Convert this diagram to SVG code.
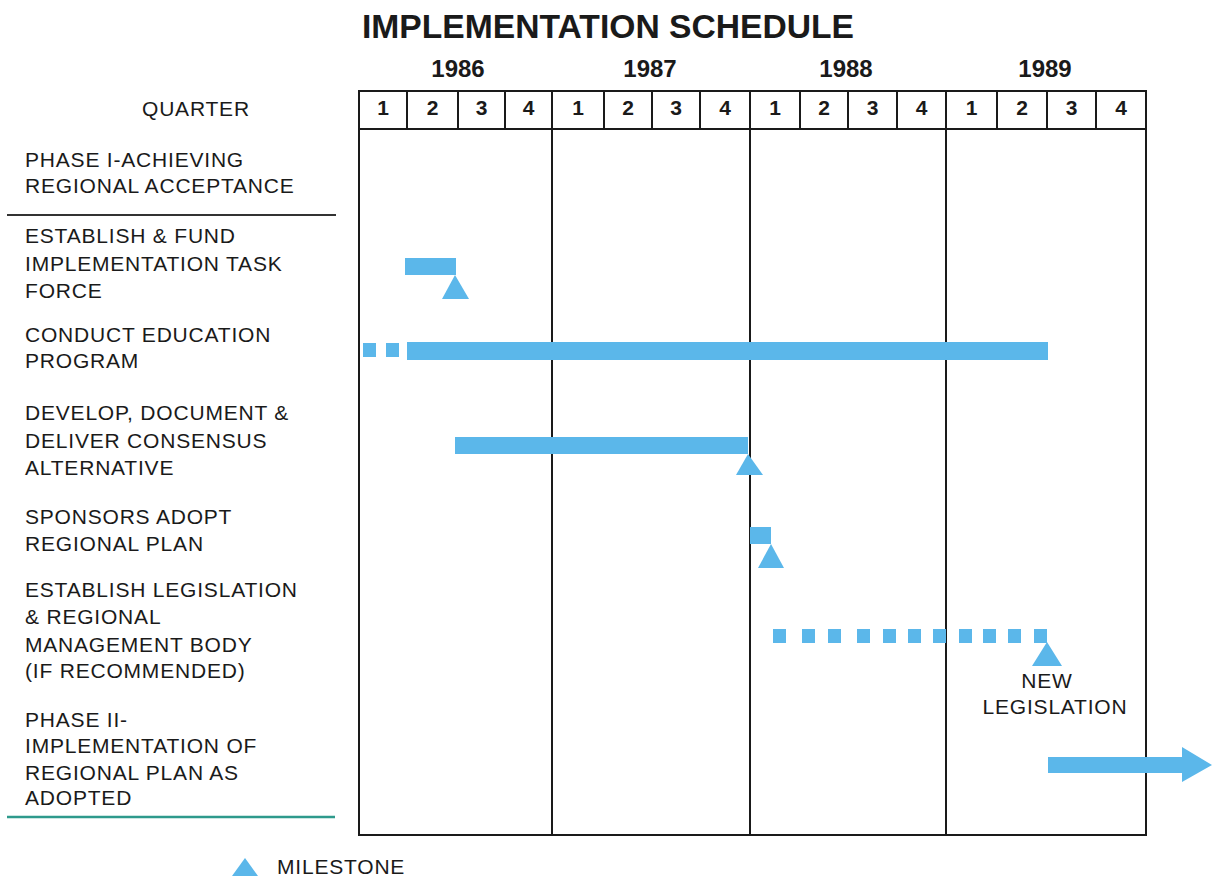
<svg xmlns="http://www.w3.org/2000/svg" width="1213" height="876" viewBox="0 0 1213 876">
<style>
.lbl{font-family:"Liberation Sans",Arial,sans-serif;font-size:21px;letter-spacing:0.8px;fill:#1a1a1a}
.yr{font-family:"Liberation Sans",Arial,sans-serif;font-size:24px;font-weight:bold;fill:#1a1a1a;text-anchor:middle}
.q{font-family:"Liberation Sans",Arial,sans-serif;font-size:21px;font-weight:bold;fill:#1a1a1a;text-anchor:middle}
.ttl{font-family:"Liberation Sans",Arial,sans-serif;font-size:34px;font-weight:bold;fill:#1a1a1a}
.grid{stroke:#1a1a1a;stroke-width:2;fill:none}
.bar{fill:#5bb7ea}
</style>
<rect width="1213" height="876" fill="#ffffff"/>
<text class="ttl" x="362" y="38" textLength="492" lengthAdjust="spacingAndGlyphs">IMPLEMENTATION SCHEDULE</text>

<g id="grid">
<rect class="grid" x="359" y="91" width="787" height="744"/>
<line class="grid" x1="359" y1="129" x2="1146" y2="129"/>
<line class="grid" x1="552" y1="91" x2="552" y2="835"/>
<line class="grid" x1="750" y1="91" x2="750" y2="835"/>
<line class="grid" x1="946" y1="91" x2="946" y2="835"/>
<path class="grid" d="M407 91V129M458 91V129M505 91V129M604 91V129M652 91V129M700 91V129M800 91V129M848 91V129M897 91V129M997 91V129M1047 91V129M1096 91V129"/>
<text class="yr" x="458" y="77">1986</text>
<text class="yr" x="650" y="77">1987</text>
<text class="yr" x="846" y="77">1988</text>
<text class="yr" x="1045" y="77">1989</text>
<text class="q" x="383" y="115">1</text>
<text class="q" x="432.5" y="115">2</text>
<text class="q" x="481.5" y="115">3</text>
<text class="q" x="528.5" y="115">4</text>
<text class="q" x="578" y="115">1</text>
<text class="q" x="628" y="115">2</text>
<text class="q" x="676" y="115">3</text>
<text class="q" x="725" y="115">4</text>
<text class="q" x="775" y="115">1</text>
<text class="q" x="824" y="115">2</text>
<text class="q" x="872.5" y="115">3</text>
<text class="q" x="921.5" y="115">4</text>
<text class="q" x="971.5" y="115">1</text>
<text class="q" x="1022" y="115">2</text>
<text class="q" x="1071.5" y="115">3</text>
<text class="q" x="1121" y="115">4</text>
<text class="lbl" x="142" y="116">QUARTER</text>
</g>

<g id="phase1">
<text class="lbl" x="25" y="167">PHASE I-ACHIEVING</text>
<text class="lbl" x="25" y="193">REGIONAL ACCEPTANCE</text>
<line x1="7" y1="215" x2="336" y2="215" stroke="#333" stroke-width="2"/>
</g>

<g id="task-fund">
<text class="lbl" x="25" y="243">ESTABLISH &amp; FUND</text>
<text class="lbl" x="25" y="271">IMPLEMENTATION TASK</text>
<text class="lbl" x="25" y="298">FORCE</text>
<rect class="bar" x="405" y="258" width="51" height="17"/>
<polygon class="bar" points="455,275 469,299 442,299"/>
</g>

<g id="task-education">
<text class="lbl" x="25" y="342">CONDUCT EDUCATION</text>
<text class="lbl" x="25" y="368">PROGRAM</text>
<rect class="bar" x="363" y="343" width="13" height="14"/>
<rect class="bar" x="386" y="343" width="13" height="14"/>
<rect class="bar" x="407" y="342" width="641" height="18"/>
</g>

<g id="task-consensus">
<text class="lbl" x="25" y="420">DEVELOP, DOCUMENT &amp;</text>
<text class="lbl" x="25" y="448">DELIVER CONSENSUS</text>
<text class="lbl" x="25" y="475">ALTERNATIVE</text>
<rect class="bar" x="455" y="437" width="293" height="17"/>
<polygon class="bar" points="748,454 763,475 736,475"/>
</g>

<g id="task-sponsors">
<text class="lbl" x="25" y="524">SPONSORS ADOPT</text>
<text class="lbl" x="25" y="551">REGIONAL PLAN</text>
<rect class="bar" x="750" y="527" width="21" height="17"/>
<polygon class="bar" points="771,544 784,568 758,568"/>
</g>

<g id="task-legislation">
<text class="lbl" x="25" y="597">ESTABLISH LEGISLATION</text>
<text class="lbl" x="25" y="624">&amp; REGIONAL</text>
<text class="lbl" x="25" y="652">MANAGEMENT BODY</text>
<text class="lbl" x="25" y="678">(IF RECOMMENDED)</text>
<rect class="bar" x="773" y="629" width="13" height="14"/>
<rect class="bar" x="802" y="629" width="13" height="14"/>
<rect class="bar" x="828" y="629" width="13" height="14"/>
<rect class="bar" x="857" y="629" width="13" height="14"/>
<rect class="bar" x="883" y="629" width="13" height="14"/>
<rect class="bar" x="908" y="629" width="13" height="14"/>
<rect class="bar" x="933" y="629" width="13" height="14"/>
<rect class="bar" x="959" y="629" width="13" height="14"/>
<rect class="bar" x="983" y="629" width="13" height="14"/>
<rect class="bar" x="1008" y="629" width="13" height="14"/>
<rect class="bar" x="1034" y="629" width="13" height="14"/>
<polygon class="bar" points="1047,642 1062,666 1032,666"/>
<text class="lbl" x="1047" y="688" text-anchor="middle">NEW</text>
<text class="lbl" x="1055" y="714" text-anchor="middle">LEGISLATION</text>
</g>

<g id="phase2">
<text class="lbl" x="25" y="727">PHASE II-</text>
<text class="lbl" x="25" y="753">IMPLEMENTATION OF</text>
<text class="lbl" x="25" y="780">REGIONAL PLAN AS</text>
<text class="lbl" x="25" y="805">ADOPTED</text>
<line x1="7" y1="817" x2="335" y2="817" stroke="#2e9a8c" stroke-width="2.5"/>
<polygon class="bar" points="1048,757 1182,757 1182,747 1212,765 1182,782 1182,773 1048,773"/>
</g>

<g id="legend">
<polygon class="bar" points="245,858 258,876 232,876"/>
<text class="lbl" x="277" y="874">MILESTONE</text>
</g>

<g id="connectors"/>
</svg>
